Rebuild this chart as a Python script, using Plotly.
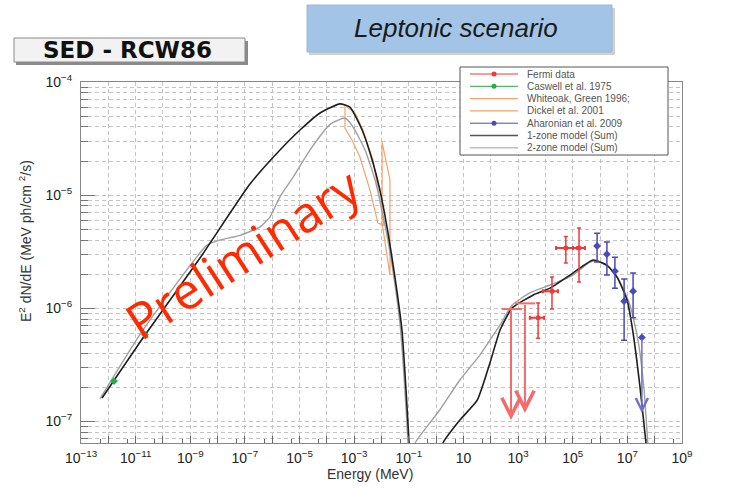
import math
import plotly.graph_objects as go

# ---------------- data (E in MeV, E^2 dN/dE in MeV ph/cm^2/s) ----------------
# 1-zone model, synchrotron branch
one_sync_E = [5.9e-13, 2.2e-11, 2.27e-9, 1.53e-7, 1.92e-6, 1.04e-5, 5.6e-5, 3.0e-4,
              7.0e-4, 1.95e-3, 4.9e-3, 8.7e-3, 1.74e-2, 3.1e-2, 5.6e-2, 7.9e-2,
              0.102, 0.112]
one_sync_F = [1.6e-7, 5.77e-7, 2.77e-6, 1.25e-5, 2.5e-5, 3.76e-5, 5.32e-5, 6.4e-5,
              6.0e-5, 3.76e-5, 1.92e-5, 1.11e-5, 4.6e-6, 1.88e-6, 6.4e-7, 1.88e-7,
              6.4e-8, 4.0e-8]
# 1-zone model, inverse Compton branch
one_ic_E = [1.4, 1.78, 7.4, 32, 93, 219, 600, 3.5e3, 1.48e4, 1.02e5, 5.5e5, 1.78e6,
            4.2e6, 9.8e6, 1.62e7, 2.9e7, 4.4e7, 4.8e7, 5.2e7]
one_ic_F = [5.0e-8, 6.4e-8, 1.02e-7, 1.53e-7, 3.26e-7, 6.4e-7, 1.0e-6, 1.3e-6, 1.5e-6,
            2.04e-6, 2.66e-6, 2.4e-6, 1.88e-6, 1.17e-6, 6.0e-7, 2.0e-7, 7.8e-8, 6.4e-8,
            4.0e-8]
# 2-zone model, synchrotron branch
two_sync_E = [5.0e-13, 1.86e-11, 4.1e-9, 1.23e-8, 6.6e-8, 3.5e-7, 8.3e-7, 1.9e-6, 5.8e-6,
              2.4e-5, 1.29e-4, 4.6e-4, 9.1e-4, 2.5e-3, 5.8e-3, 1.35e-2, 2.6e-2, 4.8e-2,
              7.2e-2, 9.3e-2, 0.102]
two_sync_F = [1.58e-7, 6.4e-7, 3.6e-6, 4.0e-6, 4.4e-6, 5.2e-6, 6.4e-6, 9.6e-6, 1.44e-5,
              2.5e-5, 4.2e-5, 4.8e-5, 4.0e-5, 2.5e-5, 1.36e-5, 5.4e-6, 2.17e-6, 7.1e-7,
              1.88e-7, 6.4e-8, 4.0e-8]
# 2-zone model, inverse Compton branch
two_ic_E = [0.14, 0.17, 1.38, 7.4, 40, 93, 219, 600, 2.7e3, 1.48e4, 1.02e5, 4.3e5, 7.8e5,
            2.3e6, 5.4e6, 1.26e7, 2.45e7, 4.1e7, 5.6e7, 6.3e7]
two_ic_F = [5.0e-8, 6.4e-8, 1.26e-7, 2.31e-7, 3.84e-7, 5.2e-7, 7.1e-7, 1.06e-6, 1.36e-6,
            1.6e-6, 1.96e-6, 2.55e-6, 2.6e-6, 2.26e-6, 1.7e-6, 1.06e-6, 5.2e-7, 1.88e-7,
            6.4e-8, 4.0e-8]

# Caswell et al. 1975 (radio)
caswell_E = [1.62e-12, 2.2e-11]
caswell_F = [2.26e-7, 5.8e-7]

# Whiteoak & Green 1996 bow-tie outline
whiteoak_E = [4.6e-4, 1.07e-3, 2.1e-3, 4.9e-3, 8.7e-3, 1.23e-2, 7.4e-3, 3.8e-3, 1.62e-3,
              8.3e-4, 4.6e-4, 4.6e-4]
whiteoak_F = [6.25e-5, 5.3e-5, 3.76e-5, 2.04e-5, 9.0e-6, 5.4e-6, 5.65e-6, 1.1e-5, 2.17e-5,
              3.07e-5, 3.92e-5, 6.25e-5]
# Dickel et al. 2001 bow-tie outline
dickel_E = [1.05e-2, 1.45e-2, 2.04e-2, 2.04e-2, 1.45e-2, 1.05e-2, 1.05e-2]
dickel_F = [2.94e-5, 2.04e-5, 1.36e-5, 1.96e-6, 3.26e-6, 5.65e-6, 2.94e-5]

# Fermi-LAT flux points
fermi_E = [5.4e3, 1.74e4, 5.6e4, 1.7e5]
fermi_E_lo = [2.7e3, 8.1e3, 2.45e4, 1.02e5]
fermi_E_hi = [8.9e3, 2.9e4, 1.45e5, 2.8e5]
fermi_F = [8.2e-7, 1.41e-6, 3.4e-6, 3.4e-6]
fermi_F_lo = [5.4e-7, 9.8e-7, 2.5e-6, 1.7e-6]
fermi_F_hi = [1.11e-6, 1.88e-6, 4.3e-6, 5.1e-6]
# Fermi-LAT upper limits
fermi_ul_E = [550, 1780]
fermi_ul_E_lo = [251, 776]
fermi_ul_E_hi = [1380, 4200]
fermi_ul_F = [9.8e-7, 1.1e-6]
fermi_ul_tip = [1.02e-7, 1.18e-7]

# Aharonian et al. 2009 (H.E.S.S.)
hess_E = [7.8e5, 1.78e6, 3.5e6, 7.6e6, 1.62e7]
hess_F = [3.54e-6, 3.0e-6, 2.12e-6, 1.15e-6, 1.41e-6]
hess_F_lo = [2.55e-6, 1.96e-6, 1.5e-6, 5.2e-7, 8.2e-7]
hess_F_hi = [4.6e-6, 3.84e-6, 2.82e-6, 1.81e-6, 2.04e-6]
hess_last_E = [3.4e7]
hess_last_F = [5.5e-7]
hess_last_tip = [1.18e-7]

# axis ticks
x_tick_exps = list(range(-13, 10))
x_tick_labels = ["10<sup>−13</sup>", "", "10<sup>−11</sup>", "", "10<sup>−9</sup>", "",
                 "10<sup>−7</sup>", "", "10<sup>−5</sup>", "", "10<sup>−3</sup>", "",
                 "10<sup>−1</sup>", "", "10", "", "10<sup>3</sup>", "", "10<sup>5</sup>", "",
                 "10<sup>7</sup>", "", "10<sup>9</sup>"]
y_tick_exps = [-7, -6, -5, -4]
y_tick_labels = ["10<sup>−7</sup>", "10<sup>−6</sup>", "10<sup>−5</sup>", "10<sup>−4</sup>"]

legend_labels = ["Fermi data", "Caswell et al. 1975", "Whiteoak, Green 1996;",
                 "Dickel et al. 2001", "Aharonian et al. 2009", "1-zone model (Sum)",
                 "2-zone model (Sum)"]

# ---------------- styles ----------------
C_BLACK = "#1e1e1e"
C_GRAY = "#a0a0a0"
C_ORANGE = "#f5a26c"
C_RED = "#f03a3a"
C_RED_UL = "#f56a6a"
C_GREEN = "#2ca84a"
C_BLUE = "#4a4ab8"

W_FIG, H_FIG = 756, 495
L, R, T, B = 81, 682, 82, 443


def px(x):
    return (x - L) / (R - L)


def py(y):
    return (B - y) / (B - T)


def asym(vals, lo, hi):
    return [h - v for v, h in zip(vals, hi)], [v - l for v, l in zip(vals, lo)]


def label(text, x, y, size, color="#333", family="Liberation Sans", angle=0,
          xanchor="center"):
    return dict(text=text, x=px(x), y=py(y), xref="paper", yref="paper",
                xanchor=xanchor, yanchor="middle", showarrow=False, textangle=angle,
                font=dict(family=family, size=size, color=color))


fig = go.Figure()

for E, F in [(whiteoak_E, whiteoak_F), (dickel_E, dickel_F)]:
    fig.add_trace(go.Scatter(x=E, y=F, mode="lines",
                             line=dict(color=C_ORANGE, width=1.2), showlegend=False))

for E, F in [(two_sync_E, two_sync_F), (two_ic_E, two_ic_F)]:
    fig.add_trace(go.Scatter(x=E, y=F, mode="lines",
                             line=dict(color=C_GRAY, width=1.4, shape="spline",
                                       smoothing=0.5), showlegend=False))

for E, F in [(one_sync_E, one_sync_F), (one_ic_E, one_ic_F)]:
    fig.add_trace(go.Scatter(x=E, y=F, mode="lines",
                             line=dict(color=C_BLACK, width=1.6, shape="spline",
                                       smoothing=0.5), showlegend=False))

# radio points
fig.add_trace(go.Scatter(x=caswell_E, y=caswell_F, mode="markers",
                         marker=dict(color=C_GREEN, size=6, symbol="diamond"),
                         showlegend=False))

# Fermi points
fy_hi, fy_lo = asym(fermi_F, fermi_F_lo, fermi_F_hi)
fx_hi, fx_lo = asym(fermi_E, fermi_E_lo, fermi_E_hi)
fig.add_trace(go.Scatter(
    x=fermi_E, y=fermi_F, mode="markers",
    marker=dict(color=C_RED, size=5),
    error_y=dict(type="data", symmetric=False, array=fy_hi, arrayminus=fy_lo,
                 color=C_RED, thickness=1.5, width=2),
    error_x=dict(type="data", symmetric=False, array=fx_hi, arrayminus=fx_lo,
                 color=C_RED, thickness=2, width=2),
    showlegend=False))

# Fermi upper limits: horizontal bin bar + arrow
ux_hi, ux_lo = asym(fermi_ul_E, fermi_ul_E_lo, fermi_ul_E_hi)
fig.add_trace(go.Scatter(
    x=fermi_ul_E, y=fermi_ul_F, mode="markers",
    marker=dict(color=C_RED_UL, size=1),
    error_x=dict(type="data", symmetric=False, array=ux_hi, arrayminus=ux_lo,
                 color=C_RED_UL, thickness=2, width=0),
    showlegend=False))

# H.E.S.S. points
hy_hi, hy_lo = asym(hess_F, hess_F_lo, hess_F_hi)
fig.add_trace(go.Scatter(
    x=hess_E, y=hess_F, mode="markers",
    marker=dict(color=C_BLUE, size=6, symbol="diamond"),
    error_y=dict(type="data", symmetric=False, array=hy_hi, arrayminus=hy_lo,
                 color=C_BLUE, thickness=1.5, width=3),
    showlegend=False))
fig.add_trace(go.Scatter(x=hess_last_E, y=hess_last_F, mode="markers",
                         marker=dict(color=C_BLUE, size=6, symbol="diamond"),
                         showlegend=False))

annotations = []
for E, top, tip in zip(fermi_ul_E, fermi_ul_F, fermi_ul_tip):
    annotations.append(dict(x=math.log10(E), y=math.log10(tip), xref="x", yref="y",
                            ax=math.log10(E), ay=math.log10(top), axref="x", ayref="y",
                            showarrow=True, arrowhead=5, arrowsize=1.8, arrowwidth=2,
                            arrowcolor=C_RED_UL, text=""))
for E, top, tip in zip(hess_last_E, hess_last_F, hess_last_tip):
    annotations.append(dict(x=math.log10(E), y=math.log10(tip), xref="x", yref="y",
                            ax=math.log10(E), ay=math.log10(top), axref="x", ayref="y",
                            showarrow=True, arrowhead=5, arrowsize=1.6, arrowwidth=1.5,
                            arrowcolor="#7070c8", text=""))

# titles and watermark
annotations += [
    label("Preliminary", 243, 253, 50, color="#ff2a00", family="Open Sans", angle=-33),
    label("Energy (MeV)", 370, 474, 14),
    label("E<sup>2</sup> dN/dE (MeV ph/cm <sup>2</sup>/s)", 25, 241, 14, angle=-90),
    label("<b>SED - RCW86</b>", 127, 50, 23, color="#111", family="DejaVu Sans"),
    label("<i>Leptonic scenario</i>", 456, 28, 26, color="#1a1a1a"),
]

shapes = [
    # header boxes
    dict(type="rect", xref="paper", yref="paper", x0=px(16), x1=px(248), y0=py(41),
         y1=py(65), fillcolor="#8a8a8a", line=dict(width=0), layer="above"),
    dict(type="rect", xref="paper", yref="paper", x0=px(14), x1=px(245), y0=py(38),
         y1=py(62), fillcolor="#f2f2f2", line=dict(color="#8a8a8a", width=1), layer="above"),
    dict(type="rect", xref="paper", yref="paper", x0=px(309), x1=px(615), y0=py(8),
         y1=py(55), fillcolor="#d0d0d0", line=dict(width=0), layer="above"),
    dict(type="rect", xref="paper", yref="paper", x0=px(307), x1=px(612), y0=py(5),
         y1=py(52), fillcolor="#a2c4e6", line=dict(color="#9ab8d8", width=1), layer="above"),
    # legend frame
    dict(type="rect", xref="paper", yref="paper", x0=px(460), x1=px(668), y0=py(67),
         y1=py(155), fillcolor="white", line=dict(color="#555", width=1), layer="above"),
]

legend_styles = [
    (C_RED, 1.2, True), (C_GREEN, 1.0, True), (C_ORANGE, 1.2, False), (C_ORANGE, 1.2, False),
    (C_BLUE, 1.0, True), ("#555555", 1.6, False), ("#bdbdbd", 1.6, False),
]
for i, (text, (col, lw, dot)) in enumerate(zip(legend_labels, legend_styles)):
    yy = 74 + i * 12.3
    shapes.append(dict(type="line", xref="paper", yref="paper", x0=px(470), x1=px(518),
                       y0=py(yy), y1=py(yy), line=dict(color=col, width=lw), layer="above"))
    if dot:
        shapes.append(dict(type="circle", xref="paper", yref="paper", x0=px(491.5),
                           x1=px(496.5), y0=py(yy + 2.5), y1=py(yy - 2.5),
                           fillcolor=col, line=dict(color=col, width=0), layer="above"))
    annotations.append(label(text, 525, yy, 10, color="#555", xanchor="left"))

y_minor = [m * 10 ** e for e in range(-8, -4) for m in range(2, 10)]
x_minor = [5 * 10 ** e for e in range(-14, 9)]
GRID_COLOR, GRID_DASH = "#c4c4c4", "4px,3px"

fig.update_layout(
    width=W_FIG, height=H_FIG,
    margin=dict(l=L, r=W_FIG - R, t=T, b=H_FIG - B, pad=0),
    paper_bgcolor="white", plot_bgcolor="white",
    showlegend=False,
    annotations=annotations, shapes=shapes,
    xaxis=dict(type="log", range=[-13, 9], tickmode="array",
               tickvals=[10 ** e for e in x_tick_exps], ticktext=x_tick_labels,
               ticks="inside", ticklen=7, tickcolor="#666", ticklabelstandoff=2,
               showgrid=True, gridcolor=GRID_COLOR, griddash=GRID_DASH, gridwidth=1,
               minor=dict(tickmode="array", tickvals=x_minor, ticks="inside", ticklen=4,
                          tickcolor="#666", showgrid=False),
               showline=True, linecolor="#888", linewidth=1, mirror=True,
               tickfont=dict(family="Liberation Sans", size=14, color="#222"),
               zeroline=False),
    yaxis=dict(type="log", range=[math.log10(6.4e-8), -4], tickmode="array",
               tickvals=[10 ** e for e in y_tick_exps], ticktext=y_tick_labels,
               ticks="inside", ticklen=14, tickcolor="#777", ticklabelstandoff=5,
               showgrid=True, gridcolor=GRID_COLOR, griddash=GRID_DASH, gridwidth=1,
               minor=dict(tickmode="array", tickvals=y_minor, ticks="inside", ticklen=7,
                          tickcolor="#777", showgrid=True, gridcolor=GRID_COLOR,
                          griddash=GRID_DASH),
               showline=True, linecolor="#888", linewidth=1, mirror=True,
               tickfont=dict(family="Liberation Sans", size=14, color="#222"),
               zeroline=False),
)

fig.write_html("out.html")
